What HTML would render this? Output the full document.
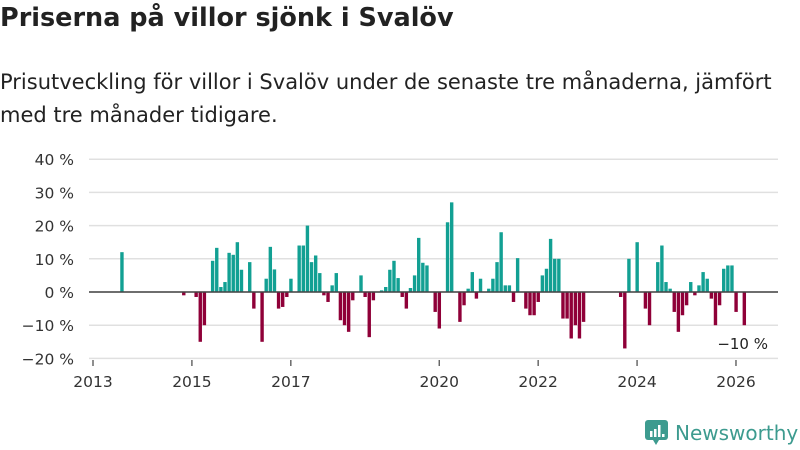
<!DOCTYPE html>
<html><head><meta charset="utf-8"><style>
body{margin:0;width:800px;height:450px;background:#fff;font-family:"DejaVu Sans","Liberation Sans",sans-serif;color:#222;overflow:hidden;position:relative}
#title{position:absolute;left:0;top:3px;font-size:25.5px;font-weight:bold;margin:0}
#sub{position:absolute;left:0;top:66px;font-size:21px;line-height:33px;width:798px;color:#222}
svg{position:absolute;left:0;top:0}
</style></head><body>
<h1 id="title">Priserna på villor sjönk i Svalöv</h1>
<div id="sub">Prisutveckling för villor i Svalöv under de senaste tre månaderna, jämfört med tre månader tidigare.</div>
<svg id="chart" width="800" height="450"></svg>
<div style="position:absolute;left:645px;top:420px;display:flex;align-items:center">
<svg width="24" height="26" style="position:static"><rect x="0" y="0" width="23" height="20" rx="3" fill="#3d9b8f"/><polygon points="8,20 14,20 11,25" fill="#3d9b8f"/><rect x="5" y="11" width="2.5" height="6" fill="#fff"/><rect x="9" y="9" width="2.5" height="8" fill="#fff"/><rect x="13" y="5" width="2.5" height="12" fill="#fff"/><rect x="17" y="14" width="2.5" height="3" fill="#fff"/></svg>
<span style="font-size:20px;color:#3d9b8f;margin-left:6px;font-family:'DejaVu Sans',sans-serif">Newsworthy</span></div>
<script>
const startYear = 2013;
const monthIdx = [7,22,25,26,27,29,30,31,32,33,34,35,36,38,39,41,42,43,44,45,46,47,48,50,51,52,53,54,55,56,57,58,59,60,61,62,63,65,66,67,68,70,71,72,73,74,75,76,77,78,79,80,81,83,84,86,87,89,90,91,92,93,94,96,97,98,99,100,101,102,103,105,106,107,108,109,110,111,112,113,114,115,116,117,118,119,128,129,130,132,134,135,137,138,139,140,141,142,143,144,145,146,147,148,149,150,151,152,153,154,155,156,158];
const values = [12,-1,-1.5,-15,-10,9.4,13.3,1.5,3,11.8,11.2,15,6.7,9,-5,-15,4,13.6,6.8,-5,-4.5,-1.5,4,14,14,20,9,11,5.7,-1,-3,2,5.7,-8.5,-10,-12,-2.5,5,-1.5,-13.6,-2.5,0.5,1.5,6.7,9.4,4.2,-1.5,-5,1.2,5,16.3,8.8,8,-6,-11,21,27,-9,-4,1,6,-2,4,1,4,9,18,2,2,-3,10.2,-5,-7,-7,-3,5,7,16,10,10,-8,-8,-14,-10,-14,-9,-1.5,-17,10,15,-5,-10,9,14,3,1,-6,-12,-7,-4,3,-1,2,6,4,-2,-10,-4,7,8,8,-6,-10];
const yTicks = [40,30,20,10,0,-10,-20];
const xYears = [2013,2015,2017,2020,2022,2024,2026];
const lastLabel = "−10 %";

const svg = document.getElementById('chart');
const NS = 'http://www.w3.org/2000/svg';
const x0 = 93, perYear = 49.46;
const xScale = m => x0 + m * perYear / 12;
const yScale = v => 292 - v * 3.32;
function mk(tag, attrs){const e=document.createElementNS(NS,tag);for(const k in attrs)e.setAttribute(k,attrs[k]);svg.appendChild(e);return e;}
yTicks.forEach(t=>{
  const g = mk('line',{x1:89,x2:778,y1:yScale(t),y2:yScale(t),stroke:'#e0e0e0','stroke-width':1.5});
  
  
  const l = mk('text',{x:74,y:yScale(t)+6,'text-anchor':'end','font-size':15.5,fill:'#333'});
  l.textContent = (t<0?'−'+(-t):t)+' %';
  
  
});
xYears.forEach(y=>{
  const x = xScale((y-startYear)*12);
  const tk = mk('line',{x1:x,x2:x,y1:360,y2:366,stroke:'#444','stroke-width':1.2});
  
  
  const l = mk('text',{x:x,y:387,'text-anchor':'middle','font-size':15.5,fill:'#333'});
  l.textContent = y;
  
  
});
monthIdx.forEach((m,i)=>{
  const v = values[i]; if(v==null) return;
  const x = xScale(m) - 1.6;
  const y = v>=0 ? yScale(v) : yScale(0);
  const r = mk('rect',{x:x,y:y,width:3.4,height:Math.abs(yScale(v)-yScale(0)),fill:v>=0?'#12a093':'#8f0038'});
  
  
});
const z = mk('line',{x1:89,x2:778,y1:yScale(0),y2:yScale(0),stroke:'#444','stroke-width':1.5});


const ll = mk('text',{x:768,y:349,'text-anchor':'end','font-size':15,fill:'#222'});
ll.textContent = lastLabel;


</script>
</body></html>
